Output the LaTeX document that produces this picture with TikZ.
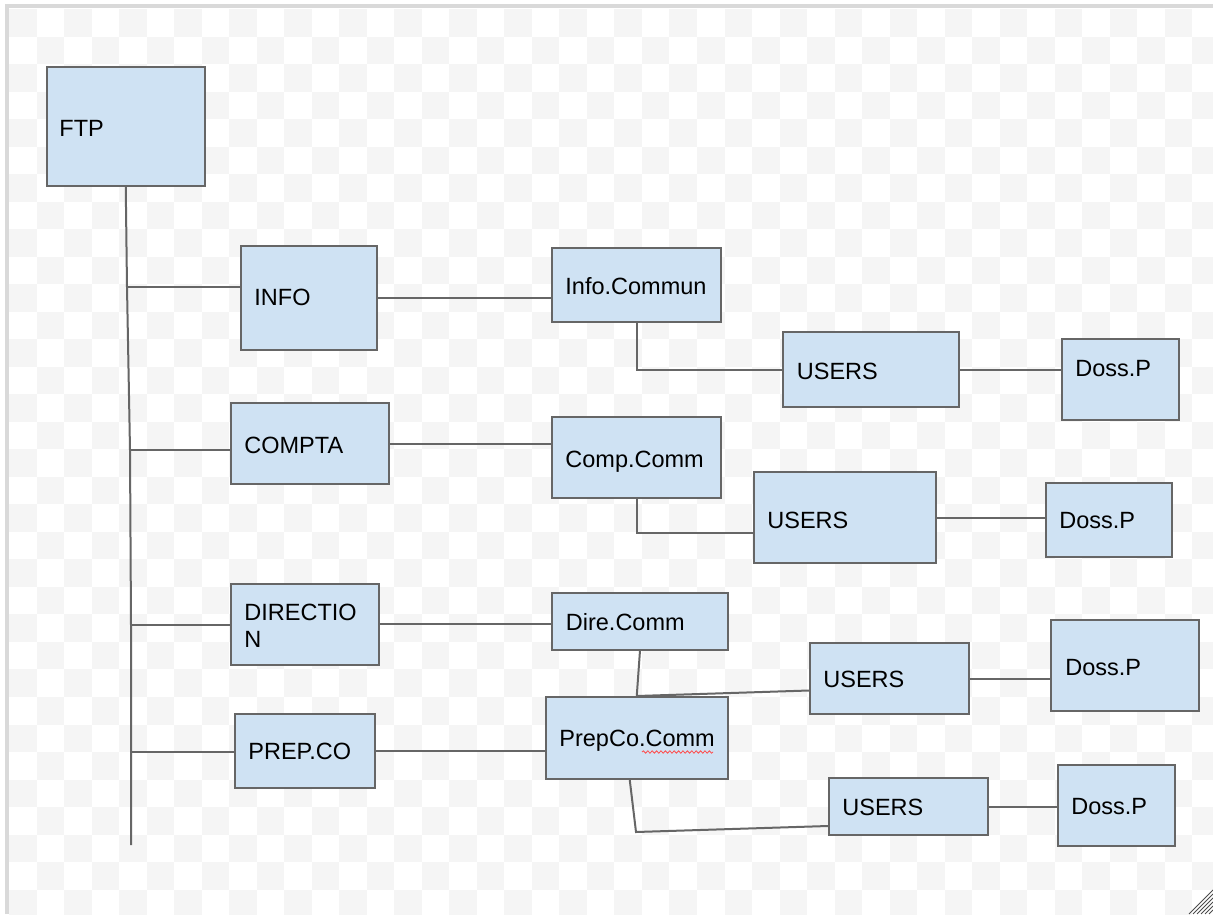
\documentclass[tikz,border=0pt]{standalone}
\usepackage{fontspec}
\setmainfont{Liberation Sans}
\usetikzlibrary{fit,decorations.pathmorphing}
\definecolor{boxblue}{HTML}{CFE2F3}
\definecolor{edgegray}{HTML}{666666}
\definecolor{cellgray}{HTML}{F5F5F5}
\definecolor{framegray}{HTML}{D9D9D9}
\tikzset{
  box/.style={draw=edgegray, fill=boxblue, line width=1pt, inner sep=0pt},
  txt/.style={anchor=base west, inner sep=0pt, font=\fontsize{11.75}{13.5}\selectfont},
  conn/.style={draw=edgegray, line width=1pt},
}
\begin{document}
\begin{tikzpicture}[x=0.5pt,y=-0.5pt]
                \useasboundingbox (0,0) rectangle (1213,914);
                \clip (0,0) rectangle (1213,914);
                \fill[white] (0,0) rectangle (1213,914);
                \foreach \r in {0,...,32}{
                  \foreach \c in {0,...,21}{
                    \pgfmathsetmacro\cx{9+27.52*(2*\c+mod(\r,2))}
                    \pgfmathsetmacro\cy{9+27.52*\r}
                    \fill[cellgray] (\cx,\cy) rectangle ++(27.52,27.52);
                  }
                }
                \fill[white] (0,0) rectangle (1213,9);
                \fill[white] (0,0) rectangle (9,914);
                \draw[framegray, line width=2pt] (6.5,914) -- (6.5,6.5) -- (1213,6.5);
                \node[box, fit={(46.5,67.5) (205,186)}] (ftp) {};
                \node[box, fit={(241,246.5) (377,350)}] (info) {};
                \node[box, fit={(552,248) (721,322)}] (infocomm) {};
                \node[box, fit={(783,332) (959,407)}] (users1) {};
                \node[box, fit={(1062,339) (1179,420)}] (doss1) {};
                \node[box, fit={(231,403) (389,484)}] (compta) {};
                \node[box, fit={(552,417) (721,497.5)}] (compcomm) {};
                \node[box, fit={(754,472) (936,563)}] (users2) {};
                \node[box, fit={(1046,483) (1172,557)}] (doss2) {};
                \node[box, fit={(231,583.5) (379,665)}] (direction) {};
                \node[box, fit={(552,592.5) (728,649.5)}] (direcomm) {};
                \node[box, fit={(810,643) (969,714)}] (users3) {};
                \node[box, fit={(1051,620) (1199,711)}] (doss3) {};
                \node[box, fit={(235,714) (375,788)}] (prepco) {};
                \node[box, fit={(545.5,697) (728,779)}] (prepcocomm) {};
                \node[box, fit={(829,778) (988,835)}] (users4) {};
                \node[box, fit={(1058,765) (1175,846)}] (doss4) {};
                \node[txt] (ftptxt) at (59,136.5) {FTP};
                \node[txt] (infotxt) at (254,306) {INFO};
                \node[txt] (infocommtxt) at (565,294.5) {Info.Commun};
                \node[txt] (users1txt) at (796.5,379) {USERS};
                \node[txt] (doss1txt) at (1075,376) {Doss.P};
                \node[txt] (comptatxt) at (244,453.5) {COMPTA};
                \node[txt] (compcommtxt) at (565,467) {Comp.Comm};
                \node[txt] (users2txt) at (767,528) {USERS};
                \node[txt] (doss2txt) at (1059,528.5) {Doss.P};
                \node[txt] (directiontxt) at (244,620) {DIRECTIO};
                \node[txt] (directiontxtb) at (244,647) {N};
                \node[txt] (direcommtxt) at (565.5,630.5) {Dire.Comm};
                \node[txt] (users3txt) at (823,687.5) {USERS};
                \node[txt] (doss3txt) at (1065,675) {Doss.P};
                \node[txt] (prepcotxt) at (248,759.5) {PREP.CO};
                \node[txt] (prepcocommtxt) at (559,746.5) {PrepCo.Comm};
                \node[txt] (users4txt) at (842,815.5) {USERS};
                \node[txt] (doss4txt) at (1071,814.5) {Doss.P};
                \draw[red!70, line width=0.4pt, decorate, decoration={snake, amplitude=0.6pt, segment length=2.2pt}] (642,752) -- (713,752);
                \coordinate (b1) at (127,287);
                \coordinate (b2) at (130,450);
                \coordinate (b3) at (131,625);
                \coordinate (b4) at (131,752);
                \coordinate (trunkend) at (131,845);
                \draw[conn] (ftp.south) -- (b1) -- (b2) -- (b3) -- (b4) -- (trunkend);
                \draw[conn] (b1) -- (b1 -| info.west);
                \draw[conn] (b2) -- (b2 -| compta.west);
                \draw[conn] (b3) -- (b3 -| direction.west);
                \draw[conn] (b4) -- (b4 -| prepco.west);
                \draw[conn] (info.east) -- (info.east -| infocomm.west);
                \draw[conn] (compta.east) -- (compta.east -| compcomm.west);
                \draw[conn] (direction.east) -- (direction.east -| direcomm.west);
                \draw[conn] (prepco.east) -- (prepco.east -| prepcocomm.west);
                \draw[conn] (infocomm.south) |- (users1.west);
                \draw[conn] (compcomm.south) |- ([yshift=-7.5pt]users2.west);
                \draw[conn] (direcomm.south) -- (prepcocomm.north) -- ([yshift=-6pt]users3.west);
                \coordinate (bend4) at (636,832);
                \draw[conn] ([xshift=-3.5pt]prepcocomm.south) -- (bend4) -- ([yshift=-9.75pt]users4.west);
                \draw[conn] (users1.east) -- (users1.east -| doss1.west);
                \draw[conn] (users2.east) -- (users2.east -| doss2.west);
                \draw[conn] (users3.east) -- (users3.east -| doss3.west);
                \draw[conn] (users4.east) -- (users4.east -| doss4.west);
                \foreach \k in {0,...,5}
                  \draw[black!70, line width=0.5pt] (1189+4*\k,914) -- (1213,890+4*\k);
        \end{tikzpicture}
\end{document}
